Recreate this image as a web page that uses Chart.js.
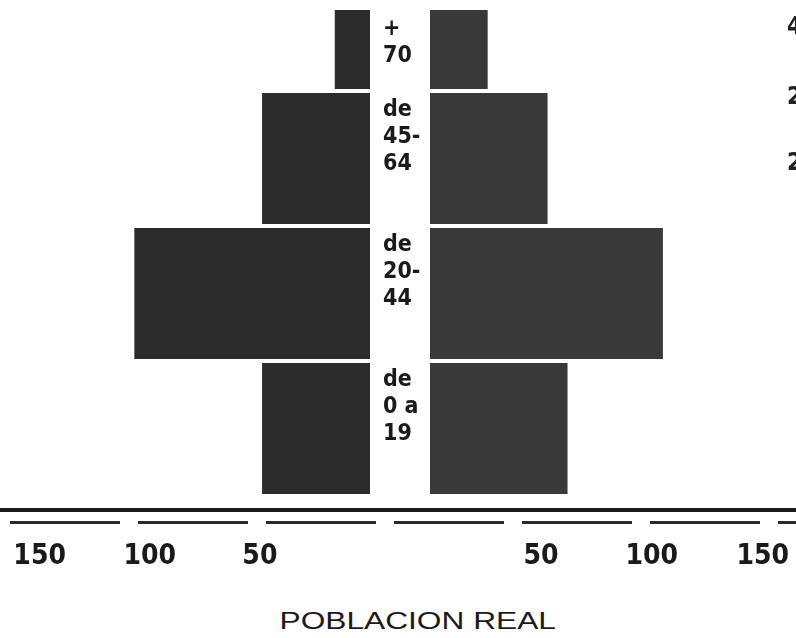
<!DOCTYPE html>
<html>
<head>
<meta charset="utf-8">
<script src="https://cdn.jsdelivr.net/npm/chart.js@4"></script>
<style>
  html, body { margin: 0; padding: 0; background: #fff; }
  body { width: 796px; height: 638px; position: relative; overflow: hidden; }
  #clip { position: absolute; left: 0; top: 10px; width: 796px; height: 600px; overflow: hidden; }
  #leftBox { position: absolute; left: 0; top: -54px; width: 370px; height: 620px; }
  #rightBox { position: absolute; left: 370px; top: -54px; width: 426px; height: 620px; }
  .thick { position: absolute; left: 0; top: 508px; width: 796px; height: 4px; background: #1c1c1c; }
  .dashed { position: absolute; left: 10px; top: 521px; width: 786px; height: 3px;
    background: repeating-linear-gradient(90deg, #2a2a2a 0 110px, transparent 110px 128px); }
  #title { position: absolute; left: 0; top: 607px; width: 796px; text-align: center;
    font: 24px "Liberation Sans", Arial, sans-serif; color: #1a1a1a; }
  #title span { display: inline-block; transform: scaleX(1.32); margin-left: 40px; }
  .frag { position: absolute; left: 787px; font: bold 24px "DejaVu Sans Condensed", sans-serif; color: #222; }
</style>
</head>
<body>
<div id="clip">
  <div id="leftBox"><canvas id="leftChart"></canvas></div>
  <div id="rightBox"><canvas id="rightChart"></canvas></div>
</div>
<div class="thick"></div>
<div class="dashed"></div>
<div id="title"><span>POBLACION REAL</span></div>
<div class="frag" style="top:12px">4</div>
<div class="frag" style="top:82px">2</div>
<div class="frag" style="top:148px">2</div>

<script>
const categories = ['+70', 'de 45-64', 'de 20-44', 'de 0 a 19'];
const centerLabels = [['+', '70'], ['de', '45-', '64'], ['de', '20-', '44'], ['de', '0 a', '19']];
const leftValues = [16, 49, 107, 49];
const rightValues = [26, 53, 105, 62];
const tickValues = [50, 100, 150];

const tickFont = { family: "'DejaVu Sans Condensed', sans-serif", size: 28, weight: 'bold' };

// the top band starts above the visible area, labels start no higher than this
const visibleTop = 54;

const xAxis = (max, reverse) => ({
  type: 'linear',
  min: 0,
  max: max,
  reverse: reverse,
  grid: { display: false, drawTicks: false },
  border: { display: false },
  afterBuildTicks: (scale) => { scale.ticks = tickValues.map(v => ({ value: v })); },
  afterFit: (scale) => {
    scale.height = 80;
    scale.paddingLeft = 0;
    scale.paddingRight = 0;
  },
  ticks: { color: '#1a1a1a', font: tickFont, padding: 44, maxRotation: 0, autoSkip: false }
});

const centerTextPlugin = {
  id: 'centerText',
  afterDraw: (chart) => {
    const { ctx, chartArea } = chart;
    const y = chart.scales.y;
    const band = (chartArea.bottom - chartArea.top) / categories.length;
    ctx.save();
    ctx.font = "bold 23px 'DejaVu Sans Condensed', sans-serif";
    ctx.fillStyle = '#1a1a1a';
    ctx.textBaseline = 'top';
    ctx.textAlign = 'left';
    centerLabels.forEach((lines, i) => {
      const top = Math.max(y.getPixelForValue(i) - band / 2, visibleTop) + 8;
      lines.forEach((t, j) => ctx.fillText(t, 13, top + j * 27));
    });
    ctx.restore();
  }
};

const makeChart = (id, values, color, max, reverse, padLeft, plugins) => {
  return new Chart(document.getElementById(id), {
    type: 'bar',
    data: {
      labels: categories,
      datasets: [{
        data: values,
        backgroundColor: color,
        borderWidth: 0,
        categoryPercentage: 0.97,
        barPercentage: 1
      }]
    },
    options: {
      indexAxis: 'y',
      animation: false,
      responsive: true,
      maintainAspectRatio: false,
      layout: { padding: { left: padLeft, right: 0, top: 0, bottom: 0 } },
      plugins: { legend: { display: false }, tooltip: { enabled: false } },
      scales: {
        x: xAxis(max, reverse),
        y: { display: false }
      }
    },
    plugins: plugins
  });
};

makeChart('leftChart', leftValues, '#2b2b2b', 168, true, 0, []);
makeChart('rightChart', rightValues, '#393939', 165, false, 60, [centerTextPlugin]);
</script>
</body>
</html>
